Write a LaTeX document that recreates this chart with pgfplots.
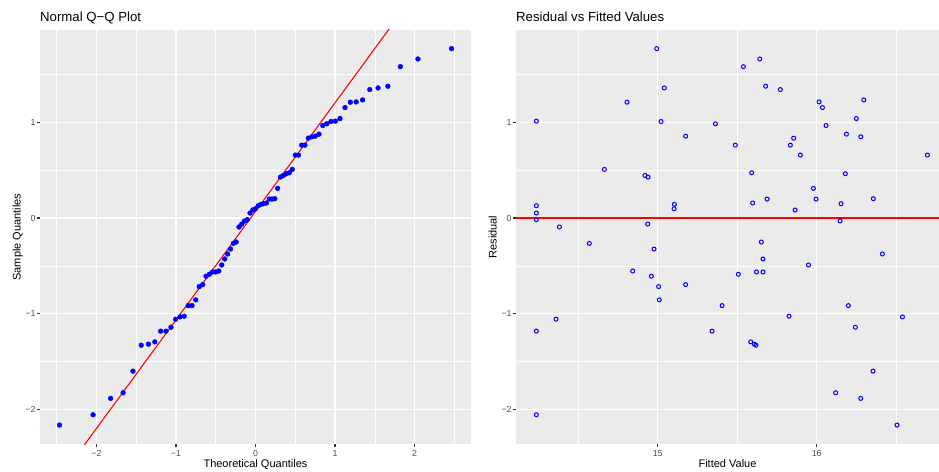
\documentclass[border=0pt]{standalone}
\usepackage{fontspec}
\setmainfont{Liberation Sans}
\usepackage{pgfplots}
\pgfplotsset{compat=1.18}
\definecolor{ggbg}{HTML}{EBEBEB}
\definecolor{ggtick}{HTML}{333333}
\definecolor{gglab}{HTML}{4D4D4D}
\pgfplotsset{ggstyle/.style={
  scale only axis,
  axis background/.style={fill=ggbg},
  axis line style={draw=none},
  tick pos=left,
  tick align=outside,
  major tick length=2.74bp,
  minor tick length=0pt,
  tick style={ggtick, line width=1.07bp},
  grid=both,
  major grid style={white, line width=1.07bp},
  minor grid style={white, line width=0.53bp},
  ymin=-2.366, ymax=1.966,
  ytick={-2,-1,0,1},
  yticklabels={−2,−1,0,1},
  minor ytick={-1.5,-0.5,0.5,1.5},
  height=414.3bp,
  ticklabel style={font=\fontsize{8.8bp}{10bp}\selectfont, text=gglab},
  xticklabel style={inner sep=0pt, anchor=north, yshift=-3bp},
  yticklabel style={inner sep=0pt, anchor=east, xshift=-1.5bp},
  label style={font=\fontsize{11bp}{13bp}\selectfont},
  xlabel style={at={(axis description cs:0.5,-0.0555)}, anchor=base},
  title style={font=\fontsize{13.2bp}{15bp}\selectfont, at={(axis description cs:0,1)}, anchor=base west, yshift=3bp, inner sep=0pt},
}}
\begin{document}
\begin{tikzpicture}
\useasboundingbox (0,0) rectangle (939bp,472bp);
\begin{axis}[ggstyle,
  at={(40bp,27.7bp)}, anchor=south west,
  width=431bp,
  xmin=-2.71, xmax=2.71,
  xtick={-2,-1,0,1,2},
  xticklabels={−2,−1,0,1,2},
  minor xtick={-2.5,-1.5,-0.5,0.5,1.5,2.5},
  title={Normal Q−Q Plot},
  xlabel={Theoretical Quantiles},
  ylabel={Sample Quantiles},
  ylabel style={at={(axis description cs:-0.0448,0.5)}, anchor=base, rotate=0},
]
\addplot[red, line width=1.07bp] coordinates {(-2.71,-3.006) (2.71,3.145)};
\addplot[only marks, mark=*, mark size=2.4bp, blue, mark options={draw=blue, fill=blue}] coordinates {
(-2.4650,-2.165) (-2.0424,-2.057) (-1.8217,-1.886) (-1.6646,-1.827) (-1.5410,-1.601)
(-1.4371,-1.330) (-1.3467,-1.319) (-1.2660,-1.295) (-1.1928,-1.183) (-1.1257,-1.183)
(-1.0631,-1.142) (-1.0047,-1.058) (-0.9493,-1.034) (-0.8966,-1.027) (-0.8465,-0.916)
(-0.7983,-0.916) (-0.7519,-0.856) (-0.7072,-0.717) (-0.6637,-0.696) (-0.6215,-0.609)
(-0.5804,-0.588) (-0.5402,-0.564) (-0.5009,-0.564) (-0.4623,-0.554) (-0.4245,-0.491)
(-0.3871,-0.428) (-0.3505,-0.376) (-0.3141,-0.324) (-0.2782,-0.265) (-0.2427,-0.251)
(-0.2075,-0.094) (-0.1726,-0.063) (-0.1378,-0.031) (-0.1032,-0.017) (-0.0688,0.052)
(-0.0344,0.084) (0,0.097) (0.0344,0.129) (0.0688,0.143) (0.1032,0.150)
(0.1378,0.157) (0.1726,0.198) (0.2075,0.198) (0.2427,0.202) (0.2782,0.310)
(0.3141,0.428) (0.3505,0.445) (0.3871,0.463) (0.4245,0.473) (0.4623,0.508)
(0.5009,0.658) (0.5402,0.658) (0.5804,0.762) (0.6215,0.762) (0.6637,0.835)
(0.7072,0.849) (0.7519,0.856) (0.7983,0.877) (0.8465,0.967) (0.8966,0.985)
(0.9493,1.009) (1.0047,1.013) (1.0631,1.040) (1.1257,1.155) (1.1928,1.211)
(1.2660,1.214) (1.3467,1.235) (1.4371,1.343) (1.5410,1.360) (1.6646,1.378)
(1.8217,1.583) (2.0424,1.663) (2.4650,1.771)
};
\end{axis}
\begin{axis}[ggstyle,
  at={(516bp,27.7bp)}, anchor=south west,
  width=423bp,
  xmin=14.109, xmax=16.769,
  xtick={15,16},
  xticklabels={15,16},
  minor xtick={14.5,15.5,16.5},
  title={Residual vs Fitted Values},
  xlabel={Fitted Value},
  ylabel={Residual},
  ylabel style={at={(axis description cs:-0.0456,0.5)}, anchor=base, rotate=0},
]
\addplot[red, line width=1.07bp] coordinates {(14.109,0) (16.769,0)};
\addplot[only marks, mark=o, mark size=2bp, mark options={draw=blue, line width=1bp}] coordinates {
(14.237,1.013) (14.237,0.129) (14.237,0.052) (14.237,-0.017) (14.382,-0.094)
(14.665,0.508) (14.807,1.211) (14.920,0.445) (14.939,0.428) (14.937,-0.063)
(14.994,1.771) (15.021,1.009) (15.042,1.360) (15.105,0.143) (15.103,0.097)
(15.176,0.856) (15.363,0.985) (15.488,0.762) (15.539,1.583) (15.591,0.473)
(15.597,0.157) (15.642,1.663) (15.679,1.378) (15.688,0.198) (15.771,1.343)
(15.834,0.762) (15.855,0.835) (15.864,0.084) (15.897,0.658) (15.979,0.310)
(15.996,0.198) (16.015,1.214) (16.036,1.155) (16.059,0.967) (16.147,-0.031)
(16.153,0.150) (16.180,0.463) (16.187,0.877) (16.249,1.040) (16.277,0.849)
(16.296,1.235) (16.356,0.202) (16.696,0.658)
(14.237,-1.183) (14.237,-2.057) (14.361,-1.058) (14.570,-0.265) (14.843,-0.554)
(14.977,-0.324) (14.960,-0.609) (15.006,-0.717) (15.010,-0.856) (15.176,-0.696)
(15.342,-1.183) (15.405,-0.916) (15.507,-0.588) (15.585,-1.295) (15.608,-1.319)
(15.618,-1.330) (15.621,-0.564) (15.652,-0.251) (15.662,-0.428) (15.662,-0.564)
(15.826,-1.027) (15.948,-0.491) (16.119,-1.827) (16.199,-0.916) (16.243,-1.142)
(16.277,-1.886) (16.354,-1.601) (16.413,-0.376) (16.505,-2.165) (16.539,-1.034)
};
\end{axis}
\end{tikzpicture}
\end{document}
